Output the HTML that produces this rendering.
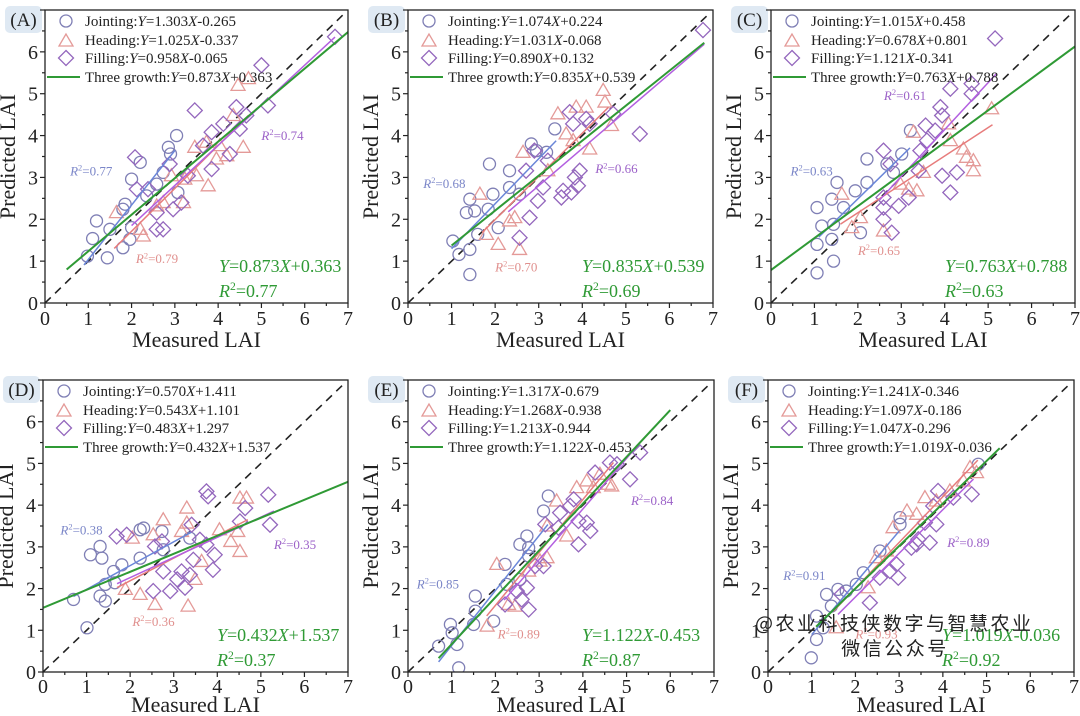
<!DOCTYPE html>
<html><head><meta charset="utf-8"><style>
html,body{margin:0;padding:0;background:#fff;}
svg{display:block;font-family:"Liberation Serif","Noto Serif CJK SC",serif;}
</style></head><body>
<svg id="chart" width="1080" height="716" viewBox="0 0 1080 716" xmlns="http://www.w3.org/2000/svg"></svg>
<script>
// ---------- data ----------
const panelLetters = ["A","B","C","D","E","F"];
const xTickLabels = ["0","1","2","3","4","5","6","7"];
const yTickLabels = ["0","1","2","3","4","5","6"];

const jointingEq = ["Y=1.303X-0.265","Y=1.074X+0.224","Y=1.015X+0.458","Y=0.570X+1.411","Y=1.317X-0.679","Y=1.241X-0.346"];
const headingEq  = ["Y=1.025X-0.337","Y=1.031X-0.068","Y=0.678X+0.801","Y=0.543X+1.101","Y=1.268X-0.938","Y=1.097X-0.186"];
const fillingEq  = ["Y=0.958X-0.065","Y=0.890X+0.132","Y=1.121X-0.341","Y=0.483X+1.297","Y=1.213X-0.944","Y=1.047X-0.296"];
const threeEq    = ["Y=0.873X+0.363","Y=0.835X+0.539","Y=0.763X+0.788","Y=0.432X+1.537","Y=1.122X-0.453","Y=1.019X-0.036"];
const jointSlope = [1.303,1.074,1.015,0.570,1.317,1.241];
const jointInt   = [-0.265,0.224,0.458,1.411,-0.679,-0.346];
const headSlope  = [1.025,1.031,0.678,0.543,1.268,1.097];
const headInt    = [-0.337,-0.068,0.801,1.101,-0.938,-0.186];
const fillSlope  = [0.958,0.890,1.121,0.483,1.213,1.047];
const fillInt    = [-0.065,0.132,-0.341,1.297,-0.944,-0.296];
const threeSlope = [0.873,0.835,0.763,0.432,1.122,1.019];
const threeInt   = [0.363,0.539,0.788,1.537,-0.453,-0.036];
const jointRange = [[0.9,3.0],[1.0,3.4],[1.1,3.2],[0.7,3.4],[0.7,3.2],[1.0,3.0]];
const headRange  = [[1.6,4.7],[1.7,4.6],[1.6,5.1],[1.7,4.7],[1.8,4.7],[1.5,4.8]];
const fillRange  = [[2.0,6.7],[2.3,6.8],[2.5,5.2],[1.7,5.3],[2.2,5.3],[1.6,4.7]];
const threeRange = [[0.5,7.0],[1.0,6.8],[0,7.0],[0,7.0],[0.7,6.0],[1.1,5.3]];
const jointR2 = ["0.77","0.68","0.63","0.38","0.85","0.91"];
const headR2  = ["0.79","0.70","0.65","0.36","0.89","0.93"];
const fillR2  = ["0.74","0.66","0.61","0.35","0.84","0.89"];
const threeR2 = ["0.77","0.69","0.63","0.37","0.87","0.92"];
// label anchor positions in data units [x,y]
const jointR2Pos = [[0.58,3.05],[0.35,2.75],[0.45,3.05],[0.4,3.3],[0.2,2.0],[0.35,2.2]];
const headR2Pos  = [[2.1,0.95],[2.0,0.75],[2.0,1.15],[2.05,1.1],[2.05,0.8],[2.0,0.8]];
const fillR2Pos  = [[5.0,3.9],[4.3,3.1],[2.6,4.85],[5.3,2.95],[5.1,4.0],[4.1,3.0]];

const A_joint = [[1.19,1.96],[1.1,1.54],[0.98,1.12],[1.44,1.08],[1.5,1.76],[1.8,1.32],[1.85,2.36],[2.0,2.96],[2.0,1.8],[1.96,1.52],[2.2,3.36],[2.85,3.72],[2.9,3.56],[3.04,4.0],[2.58,2.84],[2.73,3.12],[2.35,2.56],[3.07,2.64],[1.8,2.24]];
const A_head = [[1.65,2.16],[2.2,1.76],[2.27,1.6],[2.58,2.32],[2.73,2.4],[2.92,3.04],[3.2,2.4],[3.23,2.96],[3.46,3.72],[3.5,3.04],[3.77,2.8],[3.73,3.84],[4.04,3.76],[4.2,3.52],[4.58,3.72],[4.46,5.2],[4.7,5.36],[4.35,4.48],[3.96,3.44]];
const A_fill = [[2.08,3.48],[2.12,2.72],[2.38,2.72],[2.58,2.16],[2.58,1.76],[2.73,1.76],[2.88,3.32],[2.96,2.24],[3.15,2.4],[3.3,3.04],[3.46,4.6],[3.85,4.08],[3.85,3.2],[4.12,4.28],[4.27,3.56],[4.42,4.68],[4.5,4.16],[4.65,4.48],[5.0,5.68],[5.15,4.72],[6.7,6.36],[3.65,3.76]];
const B_joint = [[1.03,1.48],[1.17,1.16],[1.42,1.28],[1.42,0.68],[1.34,2.16],[1.53,2.2],[1.42,2.48],[1.6,1.64],[1.87,3.32],[1.84,2.24],[1.95,2.6],[2.07,1.8],[2.33,3.16],[2.33,2.76],[2.83,3.8],[2.95,3.64],[3.37,4.16],[3.18,3.6],[2.56,2.6]];
const B_head = [[1.65,2.6],[1.8,1.64],[2.07,1.4],[2.33,1.96],[2.56,1.28],[2.64,3.6],[3.21,3.16],[3.44,4.52],[3.63,4.04],[3.86,4.68],[4.09,4.68],[4.17,3.68],[4.48,5.08],[4.52,4.8],[4.67,4.24],[3.79,3.88],[2.45,2.04]];
const B_fill = [[2.56,1.56],[2.79,2.04],[2.98,2.44],[3.1,2.76],[2.71,3.16],[2.9,3.64],[3.21,3.4],[3.52,2.52],[3.56,2.68],[3.75,2.64],[3.83,3.0],[3.9,2.8],[3.94,3.16],[3.71,4.56],[3.79,4.28],[4.09,4.4],[4.17,4.28],[5.32,4.04],[6.77,6.52],[4.71,4.52]];
const C_joint = [[1.06,0.72],[1.06,1.4],[1.06,2.28],[1.17,1.84],[1.4,1.52],[1.44,1.0],[1.4,2.48],[1.44,1.88],[1.52,2.88],[1.67,2.28],[1.94,2.68],[2.06,1.68],[2.21,3.44],[2.21,2.88],[2.82,3.12],[3.01,3.56],[3.21,4.12],[2.67,3.32]];
const C_head = [[1.63,2.6],[1.86,1.8],[2.06,2.04],[2.59,1.72],[3.17,2.72],[3.36,2.68],[3.28,4.08],[3.51,3.12],[4.09,4.28],[4.13,3.88],[4.43,3.68],[4.5,3.48],[4.66,3.4],[4.66,3.16],[5.08,4.64],[2.98,2.84]];
const C_fill = [[2.59,3.64],[2.59,2.52],[2.59,2.28],[2.59,2.0],[2.78,1.68],[2.94,2.32],[3.17,2.52],[3.4,3.16],[3.44,3.64],[3.56,4.24],[3.59,3.88],[3.78,4.12],[3.9,4.68],[3.94,4.48],[3.94,3.04],[4.13,2.64],[4.13,5.12],[4.28,3.12],[4.62,5.24],[4.62,5.0],[5.16,6.32],[2.75,3.32]];
const D_joint = [[0.7,1.74],[1.01,1.06],[1.09,2.81],[1.31,3.01],[1.35,2.73],[1.31,1.82],[1.43,1.7],[1.43,2.1],[1.62,2.41],[1.81,2.57],[2.23,2.73],[2.23,3.41],[2.31,3.45],[2.73,3.37],[2.76,2.93],[3.37,3.21],[1.65,2.14]];
const D_head = [[1.89,1.98],[2.05,3.21],[2.23,1.86],[2.53,3.29],[2.57,1.62],[2.76,3.65],[3.18,3.37],[3.3,3.93],[3.33,1.58],[3.49,2.22],[3.64,2.65],[4.05,3.41],[4.31,3.13],[4.47,3.37],[4.52,2.89],[4.52,4.17],[4.67,4.17],[3.3,3.57]];
const D_fill = [[1.69,3.25],[1.92,3.29],[2.53,1.94],[2.57,3.01],[2.76,2.41],[2.73,3.13],[2.92,1.94],[3.08,2.22],[3.18,2.41],[3.26,2.02],[3.37,2.33],[3.41,3.53],[3.45,2.69],[3.6,3.17],[3.75,3.05],[3.75,4.33],[3.79,4.21],[3.9,2.45],[3.94,2.81],[4.64,3.93],[5.17,4.25],[5.21,3.53],[4.52,3.61]];
const E_joint = [[0.7,0.62],[0.97,1.14],[1.01,0.94],[1.12,0.66],[1.16,0.1],[1.5,1.14],[1.54,1.82],[1.54,1.46],[1.96,1.22],[2.22,2.58],[2.26,2.1],[2.56,3.06],[2.72,3.26],[2.76,2.98],[2.76,2.78],[3.1,3.86],[3.21,4.22],[2.56,2.22]];
const E_head = [[1.81,1.1],[2.03,2.58],[2.3,1.62],[2.45,1.58],[2.76,2.42],[3.02,2.66],[3.18,2.74],[3.4,4.1],[3.63,3.26],[3.86,4.42],[4.09,4.58],[4.24,4.42],[4.39,4.74],[4.58,4.5],[4.66,4.46],[3.18,3.5]];
const E_fill = [[2.22,1.62],[2.49,1.94],[2.6,1.74],[2.72,2.02],[2.76,1.5],[2.91,2.54],[3.1,2.54],[3.14,3.54],[3.48,3.82],[3.71,3.98],[3.79,4.14],[3.9,3.06],[3.9,3.62],[4.09,3.58],[4.17,3.38],[4.28,4.78],[4.62,5.02],[4.78,4.98],[5.08,4.62],[5.31,5.26],[3.44,3.46]];
const F_joint = [[0.99,0.34],[1.11,0.78],[1.11,1.34],[1.26,1.06],[1.34,1.86],[1.45,1.58],[1.6,1.98],[1.79,1.94],[2.02,2.1],[2.18,2.38],[2.56,2.9],[3.02,3.7],[4.81,4.98],[3.02,3.54]];
const F_head = [[1.56,1.06],[2.29,2.02],[2.48,2.74],[2.86,3.46],[3.18,3.86],[3.4,3.78],[3.59,4.18],[3.85,4.1],[4.16,4.34],[4.47,4.58],[4.62,4.9],[4.77,4.78],[2.71,2.9]];
const F_fill = [[1.68,1.86],[2.33,1.66],[2.56,2.26],[2.79,2.42],[2.94,2.58],[2.98,2.26],[3.28,2.98],[3.44,3.18],[3.7,3.1],[3.85,3.54],[3.89,4.34],[3.59,3.58],[4.24,4.18],[4.66,4.26],[3.78,3.98],[3.4,3.06]];
const jointPts = [A_joint,B_joint,C_joint,D_joint,E_joint,F_joint];
const headPts  = [A_head,B_head,C_head,D_head,E_head,F_head];
const fillPts  = [A_fill,B_fill,C_fill,D_fill,E_fill,F_fill];

// ---------- layout ----------
const boxes = [
 {l:45,r:348,t:10,b:303,tk:22,tt:44},{l:408,r:713,t:10,b:303,tk:22,tt:44},{l:771,r:1075,t:10,b:303,tk:22,tt:44},
 {l:43,r:348,t:380,b:672,tk:21,tt:40},{l:408,r:714,t:380,b:672,tk:21,tt:40},{l:768,r:1074,t:380,b:672,tk:21,tt:40}];
const C_J="#7f7fb5", C_H="#e49a98", C_F="#9467bd", L_J="#6a86d8", L_H="#e77c7c", L_F="#b35fe0", C_G="#2f9a35";
const NS="http://www.w3.org/2000/svg";
const svg=document.getElementById('chart');
function mk(tag,attrs,parent,text){const e=document.createElementNS(NS,tag);for(const k in attrs)e.setAttribute(k,attrs[k]);if(text!==undefined)e.textContent=text;(parent||svg).appendChild(e);return e;}

function eqText(parent,x,y,str,color,size,name){
  const t=mk('text',{x:x,y:y,fill:color,'font-size':size},parent);
  
  
  for(const ch of str){const s=mk('tspan',{},t,ch);if(ch==='Y'||ch==='X')s.setAttribute('font-style','italic');}
  return t;
}
function r2Text(parent,x,y,val,color,size,name){
  const t=mk('text',{x:x,y:y,fill:color,'font-size':size},parent);
  
  
  mk('tspan',{'font-style':'italic'},t,'R');
  mk('tspan',{'font-size':size*0.65,dy:-size*0.38},t,'2');
  mk('tspan',{dy:size*0.38},t,'='+val);
}
function marker(g,kind,cx,cy,color){
  let e;
  if(kind==='circle') e=mk('circle',{cx:cx,cy:cy,r:6,fill:'none',stroke:color,'stroke-width':1.3},g);
  else if(kind==='tri') e=mk('polygon',{points:`${cx},${cy-7} ${cx-7},${cy+5} ${cx+7},${cy+5}`,fill:'none',stroke:color,'stroke-width':1.3},g);
  else e=mk('polygon',{points:`${cx},${cy-7.5} ${cx+7.5},${cy} ${cx},${cy+7.5} ${cx-7.5},${cy}`,fill:'none',stroke:color,'stroke-width':1.3},g);
  return e;
}

boxes.forEach((bx,i)=>{
  const g=mk('g',{});
  
  
  const sx=v=>bx.l+v/7*(bx.r-bx.l);
  const sy=v=>bx.b-v/7*(bx.b-bx.t);
  const bd=mk('rect',{x:bx.l-40,y:bx.t-4,width:37,height:27,rx:5,fill:'#dfe9f3'},g);
  
  
  const bt=mk('text',{x:bx.l-21.5,y:bx.t+16,'text-anchor':'middle','font-size':19,fill:'#222'},g,'('+panelLetters[i]+')');
  
  
  const clipId='clip'+i;
  const cp=mk('clipPath',{id:clipId},g);
  mk('rect',{x:bx.l,y:bx.t,width:bx.r-bx.l,height:bx.b-bx.t},cp);
  const ta=mk('g',{stroke:'#222','stroke-width':1.2},g);
  
  
  for(let v=0;v<=7;v+=0.5){
    const len=(v%1===0)?5:3;
    mk('line',{x1:sx(v),x2:sx(v),y1:bx.b,y2:bx.b+len},ta);
    mk('line',{x1:bx.l-len,x2:bx.l,y1:sy(v),y2:sy(v)},ta);
  }
  xTickLabels.forEach((lab)=>{
    const t=mk('text',{x:sx(+lab),y:bx.b+bx.tk,'text-anchor':'middle','font-size':20,fill:'#222'},g,lab);
    
    
  });
  yTickLabels.forEach((lab)=>{
    const t=mk('text',{x:bx.l-7,y:sy(+lab)+7,'text-anchor':'end','font-size':20,fill:'#222'},g,lab);
    
    
  });
  const xt=mk('text',{x:(bx.l+bx.r)/2,y:bx.b+bx.tt,'text-anchor':'middle','font-size':22,fill:'#222'},g,'Measured LAI');
  
  
  const yx=bx.l-30, yy=(bx.t+bx.b)/2;
  const yt=mk('text',{x:yx,y:yy,'text-anchor':'middle','font-size':22,fill:'#222',transform:`rotate(-90 ${yx} ${yy})`},g,'Predicted LAI');
  
  

  const pl=mk('g',{'clip-path':`url(#${clipId})`},g);
  const d1=mk('line',{x1:sx(0),y1:sy(0),x2:sx(6.95),y2:sy(6.95),stroke:'#222','stroke-width':1.6,'stroke-dasharray':'8,6'},pl);
  
  
  jointPts[i].forEach(p=>{const m=marker(pl,'circle',sx(p[0]),sy(p[1]),C_J);
    
    });
  headPts[i].forEach(p=>{const m=marker(pl,'tri',sx(p[0]),sy(p[1]),C_H);
    
    });
  fillPts[i].forEach(p=>{const m=marker(pl,'diamond',sx(p[0]),sy(p[1]),C_F);
    
    });
  const fit=(rng,a,b,col,w,name)=>{const e=mk('line',{x1:sx(rng[0]),y1:sy(a*rng[0]+b),x2:sx(rng[1]),y2:sy(a*rng[1]+b),stroke:col,'stroke-width':w},pl);
    
    };
  fit(jointRange[i],jointSlope[i],jointInt[i],L_J,1.5,'jointing-fit-line');
  fit(headRange[i],headSlope[i],headInt[i],L_H,1.5,'heading-fit-line');
  fit(fillRange[i],fillSlope[i],fillInt[i],L_F,1.5,'filling-fit-line');
  fit(threeRange[i],threeSlope[i],threeInt[i],C_G,2,'three-growth-fit-line');
  const fr=mk('rect',{x:bx.l,y:bx.t,width:bx.r-bx.l,height:bx.b-bx.t,fill:'none',stroke:'#222','stroke-width':1.3},g);
  
  
  const lg=mk('g',{},g);
  
  
  const rows=[bx.t+11,bx.t+30,bx.t+48,bx.t+67];
  marker(lg,'circle',bx.l+21,rows[0],C_J);
  marker(lg,'tri',bx.l+21,rows[1]+1,C_H);
  marker(lg,'diamond',bx.l+21,rows[2],C_F);
  mk('line',{x1:bx.l+2,x2:bx.l+35,y1:rows[3],y2:rows[3],stroke:C_G,'stroke-width':2},lg);
  const legEq=(y,label,eq,name)=>{const t=mk('text',{x:bx.l+40,y:y+5,'font-size':15,fill:'#222'},lg);
    
    
    mk('tspan',{},t,label);
    for(const ch of eq){const s=mk('tspan',{},t,ch);if(ch==='Y'||ch==='X')s.setAttribute('font-style','italic');}};
  legEq(rows[0],'Jointing:',jointingEq[i],'legend-jointing');
  legEq(rows[1],'Heading:',headingEq[i],'legend-heading');
  legEq(rows[2],'Filling:',fillingEq[i],'legend-filling');
  legEq(rows[3],'Three growth:',threeEq[i],'legend-three-growth');
  r2Text(g,sx(jointR2Pos[i][0]),sy(jointR2Pos[i][1]),jointR2[i],'#7b86c8',13,'jointing-r2-label');
  r2Text(g,sx(headR2Pos[i][0]),sy(headR2Pos[i][1]),headR2[i],'#e0908e',13,'heading-r2-label');
  r2Text(g,sx(fillR2Pos[i][0]),sy(fillR2Pos[i][1]),fillR2[i],'#9c62c8',13,'filling-r2-label');
  eqText(g,bx.l+174,bx.b-31,threeEq[i],C_G,18,'three-growth-equation');
  r2Text(g,bx.l+174,bx.b-6,threeR2[i],C_G,18,'three-growth-r2');
});
const w1=mk('text',{x:755,y:630,'font-size':19,fill:'#222','letter-spacing':'2.5','font-family':'"Noto Sans CJK SC",sans-serif'},svg,'@农业科技侠数字与智慧农业');


const w2=mk('text',{x:895,y:655,'font-size':19,fill:'#222','text-anchor':'middle','letter-spacing':'2.5','font-family':'"Noto Sans CJK SC",sans-serif'},svg,'微信公众号');


</script>
</body></html>
